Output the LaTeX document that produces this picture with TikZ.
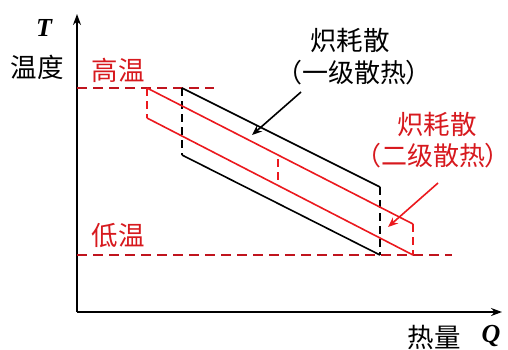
\documentclass[tikz,border=0pt]{standalone}
\usepackage{fontspec}
\newfontfamily\cjk{Noto Sans CJK SC}
\newfontfamily\cjkp[RawFeature=+palt]{Noto Sans CJK SC}
\newfontfamily\tnr{Liberation Serif}
\usetikzlibrary{arrows.meta}
\definecolor{dred}{RGB}{192,20,30}
\definecolor{lred}{RGB}{235,25,30}
\definecolor{tred}{RGB}{215,25,30}
\tikzset{
  axis/.style={line width=2.2pt, -{Stealth[length=11pt,width=8pt]}},
  hotline/.style={dred, line width=1.8pt, dash pattern=on 10pt off 6pt},
  blk/.style={black, line width=1.6pt},
  blkdash/.style={black, line width=1.6pt, dash pattern=on 8pt off 5pt},
  redl/.style={lred, line width=1.6pt},
  reddash/.style={lred, line width=1.6pt, dash pattern=on 8pt off 5pt},
  lbl/.style={font=\cjk\fontsize{26.5}{30}\selectfont, inner sep=0pt},
  plbl/.style={font=\cjkp\fontsize{26}{30}\selectfont, inner sep=0pt},
  sym/.style={font=\tnr\bfseries\itshape\fontsize{26}{28}\selectfont, inner sep=0pt},
  ptr/.style={line width=1.6pt, -{Stealth[length=10pt,width=8pt]}}
}
\begin{document}
\begin{tikzpicture}[x=1pt,y=-1pt]
\useasboundingbox (0,0) rectangle (508,349);
% axes
\coordinate (O) at (77,312);
\coordinate (Ttop) at (77,14);
\coordinate (Qend) at (502,312);
\draw[axis] (O) -- (Ttop);
\draw[axis] (O) -- (Qend);
% temperature levels
\coordinate (H0) at (77,88);
\coordinate (H1) at (214,88);
\coordinate (L0) at (77,255);
\coordinate (L1) at (452,255);
\draw[hotline] (H0) -- (H1);
\draw[hotline] (L0) -- (L1);
% black parallelogram
\coordinate (b1) at (182,88);
\coordinate (b2) at (182,155);
\coordinate (b3) at (380,187);
\coordinate (b4) at (380,255);
\draw[blk] (b1) -- (b3);
\draw[blk] (b2) -- (b4);
\draw[blkdash] (b1) -- (b2);
\draw[blkdash] (b3) -- (b4);
% red parallelogram
\coordinate (r1) at (147,88);
\coordinate (r2) at (147,118);
\coordinate (r3) at (413,224);
\coordinate (r4) at (413,255);
\coordinate (m1) at (278,159);
\coordinate (m2) at (278,185);
\draw[redl] (r1) -- (r3);
\draw[redl] (r2) -- (r4);
\draw[reddash] (r1) -- (r2);
\draw[reddash] (r3) -- (r4);
\draw[reddash] (m1) -- (m2);
% labels
\node[sym] (T) at (44,28) {T};
\node[lbl] (wd) at (37,67) {温度};
\node[lbl, text=tred] (gw) at (118,70) {高温};
\node[lbl, text=tred] (dw) at (118,236) {低温};
\node[lbl] (k1) at (350,40) {炽耗散};
\node[plbl] (k1b) at (354,73) {（一级散热）};
\node[lbl, text=tred] (k2) at (437,124) {炽耗散};
\node[plbl, text=tred] (k2b) at (433,156) {（二级散热）};
\node[lbl] (rl) at (434,337) {热量};
\node[sym] (Q) at (491,336) {Q};
% pointers
\coordinate (a1s) at (301,92);
\coordinate (a1e) at (252,135);
\coordinate (a2s) at (438,183);
\coordinate (a2e) at (388,227);
\draw[ptr, black] (a1s) -- (a1e);
\draw[ptr, lred] (a2s) -- (a2e);
\end{tikzpicture}
\end{document}
